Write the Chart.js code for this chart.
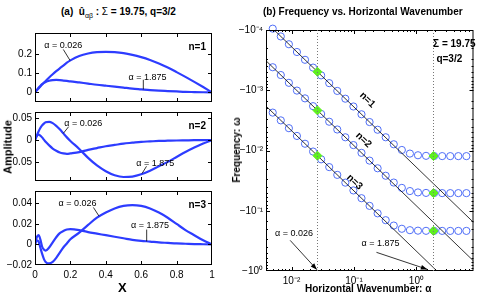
<!DOCTYPE html>
<html>
<head>
<meta charset="utf-8">
<script src="https://cdn.jsdelivr.net/npm/chart.js@4.4.1/dist/chart.umd.min.js"></script>
<style>
body { margin: 0; background: #fff; }
#wrap { position: relative; width: 479px; height: 297px; overflow: hidden; font-family: "Liberation Sans", Arial, sans-serif; }
canvas { position: absolute; }
.t { position: absolute; font-weight: bold; font-size: 10px; white-space: nowrap; color: #000; line-height: 1; }
</style>
</head>
<body>
<div id="wrap">
  <canvas id="c1" style="left:0;top:24px" width="220" height="87"></canvas>
  <canvas id="c2" style="left:0;top:103px" width="220" height="87"></canvas>
  <canvas id="c3" style="left:0;top:182px" width="220" height="113"></canvas>
  <canvas id="c4" style="left:230px;top:0" width="249" height="297"></canvas>

  <div class="t" style="left:61px;top:7px">(a)&nbsp; û<sub style="font-weight:normal;font-size:7px;color:#000">αβ</sub> : <span style="font-weight:normal">Σ</span> = 19.75, q=3/2</div>
  <div class="t" style="left:8px;top:147px;font-size:11px;transform:translate(-50%,-50%) rotate(-90deg);transform-origin:center">Amplitude</div>
  <div class="t" style="left:118px;top:281px;font-size:13px">X</div>

  <div class="t" style="left:263px;top:7px">(b) Frequency vs. Horizontal Wavenumber</div>
  <div class="t" style="left:237px;top:150px;transform:translate(-50%,-50%) rotate(-90deg);transform-origin:center">Frequency: ω</div>
  <div class="t" style="left:305px;top:284px">Horizontal Wavenumber: α</div>
</div>

<script>
// ---------- (a) eigenfunctions ----------
const xGrid = [0, 0.01, 0.02, 0.03, 0.04, 0.05, 0.06, 0.08, 0.1, 0.12, 0.14, 0.16, 0.18, 0.2, 0.25,
  0.3, 0.35, 0.4, 0.45, 0.5, 0.55, 0.6, 0.65, 0.7, 0.75, 0.8, 0.85, 0.9, 0.95, 1];

// n = 1
const n1Low  = [0, 0.011, 0.021, 0.031, 0.041, 0.05, 0.06, 0.078, 0.095, 0.111, 0.126, 0.14, 0.155, 0.167, 0.19,
  0.203, 0.21, 0.212, 0.21, 0.205, 0.196, 0.184, 0.169, 0.151, 0.13, 0.106, 0.081, 0.055, 0.028, 0];
const n1High = [0, 0.012, 0.024, 0.034, 0.043, 0.05, 0.055, 0.061, 0.064, 0.065, 0.064, 0.062, 0.06, 0.058, 0.052,
  0.046, 0.04, 0.035, 0.03, 0.025, 0.02, 0.016, 0.012, 0.009, 0.007, 0.005, 0.003, 0.002, 0.001, 0];
// n = 2
const n2Low  = [0, 0.01, 0.019, 0.027, 0.033, 0.037, 0.04, 0.041, 0.038, 0.032, 0.024, 0.015, 0.006, -0.002, -0.02,
  -0.04, -0.057, -0.07, -0.079, -0.083, -0.082, -0.077, -0.069, -0.059, -0.049, -0.038, -0.027, -0.017, -0.008, 0];
const n2High = [0, 0.009, 0.012, 0.01, 0.006, 0.001, -0.004, -0.012, -0.019, -0.024, -0.028, -0.03, -0.031, -0.03, -0.027,
  -0.022, -0.018, -0.014, -0.011, -0.008, -0.006, -0.004, -0.003, -0.002, -0.0015, -0.001, -0.0007, -0.0004, -0.0002, 0];
// n = 3
const n3Low  = [0, 0.004, 0.003, -0.003, -0.009, -0.014, -0.017, -0.0185, -0.017, -0.013, -0.008, -0.003, 0.001, 0.005, 0.0115,
  0.019, 0.026, 0.031, 0.035, 0.0375, 0.0383, 0.0375, 0.035, 0.031, 0.026, 0.02, 0.014, 0.009, 0.004, 0];
const n3High = [0, 0.007, 0.009, 0.005, -0.002, -0.005, -0.006, -0.003, 0.002, 0.007, 0.011, 0.013, 0.0145, 0.015, 0.014,
  0.012, 0.0105, 0.009, 0.0075, 0.006, 0.0045, 0.0035, 0.0028, 0.002, 0.0015, 0.001, 0.0007, 0.0004, 0.0002, 0];

const xTicksLeft = [0, 0.2, 0.4, 0.6, 0.8, 1];
const yTicks1 = [0, 0.1, 0.2];
const yTicks2 = [-0.05, 0, 0.05];
const yTicks3 = [-0.02, 0, 0.02, 0.04];

// ---------- (b) dispersion curves (|omega|, omega < 0) ----------
const alphaGrid = [0.005, 0.00673, 0.00907, 0.0122, 0.01643, 0.02213, 0.0298, 0.04012, 0.054, 0.0727, 0.0979,
  0.1319, 0.1776, 0.2391, 0.322, 0.4335, 0.5838, 0.786, 1.058, 1.425, 1.919, 2.584, 3.478, 4.684, 6.306];
const omegaN1 = [9.5e-5, 1.279e-4, 1.723e-4, 2.318e-4, 3.122e-4, 4.205e-4, 5.66e-4, 7.62e-4, 1.026e-3, 1.381e-3, 1.86e-3,
  2.505e-3, 3.369e-3, 4.523e-3, 6.031e-3, 7.879e-3, 9.802e-3, 0.011249, 0.011988, 0.012267, 0.012359, 0.012387, 0.012396, 0.0124, 0.0124];
const omegaN2 = [4.15e-4, 5.59e-4, 7.53e-4, 1.013e-3, 1.364e-3, 1.837e-3, 2.473e-3, 3.33e-3, 4.482e-3, 6.034e-3, 8.125e-3,
  0.010942, 0.014715, 0.019733, 0.026244, 0.034045, 0.041747, 0.047101, 0.04965, 0.050567, 0.050867, 0.050959, 0.050988, 0.050997, 0.051];
const omegaN3 = [2.35e-3, 3.163e-3, 4.263e-3, 5.734e-3, 7.722e-3, 0.010401, 0.014006, 0.018856, 0.025379, 0.034164, 0.04599,
  0.061888, 0.083013, 0.110408, 0.1434, 0.17611, 0.1991, 0.21013, 0.21412, 0.21542, 0.21582, 0.21594, 0.216, 0.216, 0.216];

// straight reference lines (end points)
const asymAlpha = [0.0039, 8.2];
const asymN1 = [7.4e-5, 0.156];
const asymN2 = [3.24e-4, 0.681];
const asymN3 = [1.83e-3, 3.85];

// marked wavenumbers
const markAlpha = [0.026, 1.875];
const greenAlpha = [0.026, 0.026, 0.026, 1.875, 1.875, 1.875];
const greenOmega = [4.94e-4, 2.16e-3, 0.0122, 0.01236, 0.0508, 0.2158];

const FONT = "'Liberation Sans', Arial, sans-serif";
const BLUE = '#2d3cff';

function fmtNum(v) {
  if (Math.abs(v) < 1e-12) return '0';
  return (v < 0 ? '\u2212' : '') + String(+Math.abs(v).toFixed(3));
}

const SUP = { '-': '\u207B', '0': '\u2070', '1': '\u00B9', '2': '\u00B2', '3': '\u00B3', '4': '\u2074' };
function isPow10(v) {
  const e = Math.log10(v);
  return Math.abs(e - Math.round(e)) < 1e-6;
}
function powLabel(v, neg) {
  if (!isPow10(v)) return '';
  const s = String(Math.round(Math.log10(v))).split('').map(c => SUP[c]).join('');
  return (neg ? '\u2212' : '') + '10' + s;
}

// matlab style box with inward ticks
const boxTicks = {
  id: 'boxTicks',
  afterDatasetsDraw(chart) {
    const { ctx, chartArea: a, scales } = chart;
    ctx.save();
    ctx.strokeStyle = '#000';
    ctx.lineWidth = 1;
    ctx.beginPath();
    const xs = scales.x, ys = scales.y;
    xs.ticks.forEach(t => {
      const p = Math.round(xs.getPixelForValue(t.value)) + 0.5;
      if (p < a.left + 1 || p > a.right - 1) return;
      const len = xs.type === 'logarithmic' && !isPow10(t.value) ? 2 : 4;
      ctx.moveTo(p, a.bottom); ctx.lineTo(p, a.bottom - len);
      ctx.moveTo(p, a.top); ctx.lineTo(p, a.top + len);
    });
    ys.ticks.forEach(t => {
      const p = Math.round(ys.getPixelForValue(t.value)) + 0.5;
      if (p < a.top + 1 || p > a.bottom - 1) return;
      const len = ys.type === 'logarithmic' && !isPow10(t.value) ? 2 : 4;
      ctx.moveTo(a.left, p); ctx.lineTo(a.left + len, p);
      ctx.moveTo(a.right, p); ctx.lineTo(a.right - len, p);
    });
    ctx.stroke();
    ctx.strokeRect(a.left + 0.5, a.top + 0.5, a.right - a.left - 1, a.bottom - a.top - 1);
    ctx.restore();
  }
};

// text, leader lines, arrows and dotted markers, placed in data space
const notes = {
  id: 'notes',
  afterDatasetsDraw(chart, args, o) {
    const { ctx, chartArea: a, scales: { x, y } } = chart;
    ctx.save();
    ctx.fillStyle = '#000';
    ctx.strokeStyle = '#000';
    (o.vlines || []).forEach(v => {
      const p = Math.round(x.getPixelForValue(v)) + 0.5;
      ctx.save();
      ctx.strokeStyle = '#777';
      ctx.setLineDash([1, 2]);
      ctx.beginPath(); ctx.moveTo(p, a.top); ctx.lineTo(p, a.bottom); ctx.stroke();
      ctx.restore();
    });
    (o.lines || []).forEach(l => {
      const x1 = x.getPixelForValue(l[0]), y1 = y.getPixelForValue(l[1]);
      const x2 = x.getPixelForValue(l[2]), y2 = y.getPixelForValue(l[3]);
      ctx.lineWidth = 0.8;
      ctx.beginPath(); ctx.moveTo(x1, y1); ctx.lineTo(x2, y2); ctx.stroke();
      if (l[4]) {
        const ang = Math.atan2(y2 - y1, x2 - x1);
        ctx.beginPath();
        ctx.moveTo(x2, y2);
        ctx.lineTo(x2 - 7 * Math.cos(ang - 0.35), y2 - 7 * Math.sin(ang - 0.35));
        ctx.lineTo(x2 - 7 * Math.cos(ang + 0.35), y2 - 7 * Math.sin(ang + 0.35));
        ctx.closePath(); ctx.fill();
      }
    });
    (o.texts || []).forEach(t => {
      ctx.save();
      ctx.font = (t.bold ? 'bold ' : '') + (t.size || 9) + 'px ' + FONT;
      ctx.textAlign = t.align || 'center';
      ctx.textBaseline = 'middle';
      ctx.translate(x.getPixelForValue(t.x), y.getPixelForValue(t.y));
      if (t.rot) ctx.rotate(t.rot * Math.PI / 180);
      ctx.fillText(t.text, 0, 0);
      ctx.restore();
    });
    if (o.tag) {
      ctx.font = 'bold 10px ' + FONT;
      ctx.textAlign = 'right';
      ctx.textBaseline = 'middle';
      ctx.fillText(o.tag, a.right - 6, a.top + 14);
    }
    ctx.restore();
  }
};

function crearPanel(id, low, high, yMin, yMax, yTicks, anot, showX) {
  return new Chart(document.getElementById(id), {
    type: 'line',
    data: {
      datasets: [
        { data: xGrid.map((v, i) => ({ x: v, y: low[i] })) },
        { data: xGrid.map((v, i) => ({ x: v, y: high[i] })) }
      ]
    },
    options: {
      responsive: false,
      animation: false,
      layout: { padding: { top: 4, bottom: showX ? 0 : 4, left: 0, right: 8 } },
      elements: {
        line: { borderColor: BLUE, borderWidth: 2.2, cubicInterpolationMode: 'monotone' },
        point: { radius: 0 }
      },
      scales: {
        x: {
          type: 'linear', min: 0, max: 1,
          afterBuildTicks: s => { s.ticks = xTicksLeft.map(v => ({ value: v })); },
          afterFit: s => { s.height = showX ? 30 : 0; },
          grid: { display: false, drawTicks: false },
          border: { display: false },
          ticks: { display: showX, padding: 4, color: '#000', font: { family: FONT, size: 10 }, callback: v => fmtNum(v), maxRotation: 0 }
        },
        y: {
          min: yMin, max: yMax,
          afterBuildTicks: s => { s.ticks = yTicks.map(v => ({ value: v })); },
          afterFit: s => { s.width = 35; },
          grid: { display: false, drawTicks: false },
          border: { display: false },
          ticks: { padding: 3, color: '#000', font: { family: FONT, size: 10 }, callback: v => fmtNum(v) }
        }
      },
      plugins: { legend: { display: false }, tooltip: { enabled: false }, notes: anot }
    },
    plugins: [boxTicks, notes]
  });
}

crearPanel('c1', n1Low, n1High, -0.05, 0.31, yTicks1, {
  tag: 'n=1',
  texts: [{ text: '\u03B1 = 0.026', x: 0.16, y: 0.247 }, { text: '\u03B1 = 1.875', x: 0.636, y: 0.076 }],
  lines: [[0.16, 0.224, 0.198, 0.167], [0.612, 0.066, 0.612, 0.016]]
}, false);

crearPanel('c2', n2Low, n2High, -0.092, 0.063, yTicks2, {
  tag: 'n=2',
  texts: [{ text: '\u03B1 = 0.026', x: 0.273, y: 0.037 }, { text: '\u03B1 = 1.875', x: 0.68, y: -0.052 }],
  lines: [[0.19, 0.03, 0.16, 0.015], [0.63, -0.059, 0.605, -0.075]]
}, false);

crearPanel('c3', n3Low, n3High, -0.02, 0.052, yTicks3, {
  tag: 'n=3',
  texts: [{ text: '\u03B1 = 0.026', x: 0.24, y: 0.04 }, { text: '\u03B1 = 1.875', x: 0.65, y: 0.018 }],
  lines: [[0.33, 0.036, 0.362, 0.0275], [0.631, 0.0145, 0.631, 0.003]]
}, true);

// ---------- panel (b) ----------
const circ = (om) => ({
  data: alphaGrid.map((a, i) => ({ x: a, y: om[i] })),
  showLine: false, pointStyle: 'circle', pointRadius: 3.6,
  pointBorderColor: '#4f6ef7', pointBackgroundColor: 'rgba(0,0,0,0)', pointBorderWidth: 1, clip: false
});
const recta = (om) => ({
  data: asymAlpha.map((a, i) => ({ x: a, y: om[i] })),
  showLine: true, borderColor: '#000', borderWidth: 0.8, pointRadius: 0
});

new Chart(document.getElementById('c4'), {
  type: 'scatter',
  data: {
    datasets: [
      {
        data: greenAlpha.map((a, i) => ({ x: a, y: greenOmega[i] })),
        pointStyle: 'rectRot', pointRadius: 4.5,
        pointBackgroundColor: '#5ef01e', pointBorderColor: '#5ef01e', clip: false
      },
      recta(asymN1), recta(asymN2), recta(asymN3),
      circ(omegaN1), circ(omegaN2), circ(omegaN3)
    ]
  },
  options: {
    responsive: false,
    animation: false,
    layout: { padding: { top: 30, bottom: 0, left: 0, right: 5 } },
    scales: {
      x: {
        type: 'logarithmic', min: 0.0039, max: 8.2,
        afterFit: s => { s.height = 26; },
        grid: { display: false, drawTicks: false },
        border: { display: false },
        ticks: { autoSkip: false, maxRotation: 0, padding: 4, color: '#000', font: { family: FONT, size: 10 }, callback: v => powLabel(v, false) }
      },
      y: {
        type: 'logarithmic', min: 1e-4, max: 1, reverse: true,
        afterFit: s => { s.width = 36; },
        grid: { display: false, drawTicks: false },
        border: { display: false },
        ticks: { autoSkip: false, padding: 3, color: '#000', font: { family: FONT, size: 10 }, callback: v => powLabel(v, true) }
      }
    },
    plugins: {
      legend: { display: false },
      tooltip: { enabled: false },
      notes: {
        vlines: markAlpha,
        lines: [[0.0095, 0.31, 0.0255, 0.95, true], [0.229, 0.49, 1.5, 0.94, true]],
        texts: [
          { text: '\u03B1 = 0.026', x: 0.00545, y: 0.237, align: 'left' },
          { text: '\u03B1 = 1.875', x: 0.132, y: 0.348, align: 'left' },
          { text: 'n=1', x: 0.164, y: 1.45e-3, bold: true, size: 10, rot: 44 },
          { text: 'n=2', x: 0.142, y: 6.7e-3, bold: true, size: 10, rot: 44 },
          { text: 'n=3', x: 0.102, y: 0.0335, bold: true, size: 10, rot: 44 },
          { text: '\u03A3 = 19.75', x: 1.85, y: 1.75e-4, bold: true, size: 10, align: 'left' },
          { text: 'q=3/2', x: 2.09, y: 3.1e-4, bold: true, size: 10, align: 'left' }
        ]
      }
    }
  },
  plugins: [boxTicks, notes]
});
</script>
</body>
</html>
